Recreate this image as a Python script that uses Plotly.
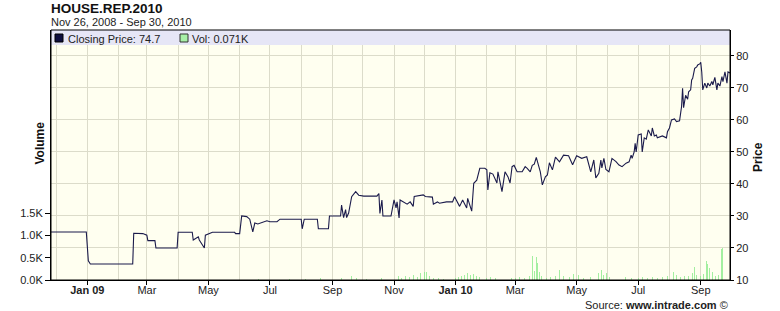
import plotly.graph_objects as go

# ---------------- data ----------------
price_dates = [
    "2008-11-26", "2008-12-31", "2009-01-02", "2009-01-04", "2009-02-15", "2009-02-16",
    "2009-02-25", "2009-03-01", "2009-03-02", "2009-03-09", "2009-03-10", "2009-03-31",
    "2009-04-01", "2009-04-15", "2009-04-16", "2009-04-21", "2009-04-22", "2009-04-27",
    "2009-04-28", "2009-05-05", "2009-05-27", "2009-05-28", "2009-06-01", "2009-06-03",
    "2009-06-08", "2009-06-11", "2009-06-14", "2009-06-16", "2009-06-19", "2009-06-28",
    "2009-07-01", "2009-07-08", "2009-07-11", "2009-08-01", "2009-08-02", "2009-08-04",
    "2009-08-17", "2009-08-18", "2009-08-28", "2009-08-29", "2009-09-09", "2009-09-10",
    "2009-09-12", "2009-09-14", "2009-09-15", "2009-09-17", "2009-09-20", "2009-09-24",
    "2009-09-27", "2009-10-02", "2009-10-15", "2009-10-17", "2009-10-18", "2009-10-20",
    "2009-10-21", "2009-10-29", "2009-11-01", "2009-11-03", "2009-11-04", "2009-11-06",
    "2009-11-07", "2009-11-10", "2009-11-14", "2009-11-17", "2009-11-20", "2009-11-21",
    "2009-11-30", "2009-12-02", "2009-12-09", "2009-12-10", "2009-12-14", "2009-12-16",
    "2009-12-23", "2009-12-29", "2009-12-31", "2010-01-05", "2010-01-08", "2010-01-12",
    "2010-01-13", "2010-01-17", "2010-01-19", "2010-01-22", "2010-01-25", "2010-01-30",
    "2010-02-01", "2010-02-02", "2010-02-04", "2010-02-07", "2010-02-11", "2010-02-12",
    "2010-02-16", "2010-02-19", "2010-02-22", "2010-02-24", "2010-02-26", "2010-02-28",
    "2010-03-03", "2010-03-08", "2010-03-11", "2010-03-13", "2010-03-16", "2010-03-18",
    "2010-03-20", "2010-03-22", "2010-03-24", "2010-03-26", "2010-03-28", "2010-03-31",
    "2010-04-02", "2010-04-04", "2010-04-07", "2010-04-10", "2010-04-14", "2010-04-18",
    "2010-04-23", "2010-04-27", "2010-05-01", "2010-05-06", "2010-05-11", "2010-05-15",
    "2010-05-18", "2010-05-20", "2010-05-23", "2010-05-25", "2010-05-26", "2010-05-28",
    "2010-05-30", "2010-06-02", "2010-06-05", "2010-06-09", "2010-06-12", "2010-06-15",
    "2010-06-19", "2010-06-22", "2010-06-24", "2010-06-25", "2010-06-27", "2010-06-28",
    "2010-06-29", "2010-07-01", "2010-07-04", "2010-07-05", "2010-07-07", "2010-07-09",
    "2010-07-11", "2010-07-14", "2010-07-15", "2010-07-17", "2010-07-19", "2010-07-20",
    "2010-07-25", "2010-07-29", "2010-07-30", "2010-08-01", "2010-08-03", "2010-08-06",
    "2010-08-08", "2010-08-11", "2010-08-13", "2010-08-14", "2010-08-15", "2010-08-17",
    "2010-08-19", "2010-08-20", "2010-08-22", "2010-08-23", "2010-08-24", "2010-08-26",
    "2010-08-28", "2010-08-29", "2010-08-31", "2010-09-01", "2010-09-02", "2010-09-03",
    "2010-09-05", "2010-09-07", "2010-09-08", "2010-09-10", "2010-09-12", "2010-09-13",
    "2010-09-15", "2010-09-17", "2010-09-18", "2010-09-20", "2010-09-22", "2010-09-23",
    "2010-09-25", "2010-09-27", "2010-09-28", "2010-09-30",
]
price_values = [
    25.0, 25.0, 16.0, 15.0, 15.0, 24.6,
    24.5, 24.0, 22.3, 22.3, 20.0, 20.0,
    24.9, 24.9, 22.5, 23.5, 22.5, 20.0,
    24.0, 24.9, 24.9, 24.5, 24.5, 30.0,
    29.8, 29.0, 25.0, 27.8, 27.5, 28.5,
    28.2, 28.2, 29.0, 29.0, 26.0, 29.0,
    29.0, 26.0, 26.0, 30.0, 30.0, 33.4,
    29.5, 32.0, 29.5, 30.9, 36.0, 37.6,
    36.5, 36.2, 36.2, 37.0, 30.8, 35.0,
    30.0, 30.0, 35.0, 32.5, 34.4, 29.4,
    35.0, 34.4, 33.7, 34.4, 33.0, 36.1,
    36.6, 36.1, 35.9, 33.7, 34.4, 34.0,
    34.4, 34.4, 36.0, 33.0, 35.0, 32.5,
    35.5, 31.5, 40.2, 41.2, 44.9, 44.9,
    44.4, 38.1, 43.5, 43.1, 40.3, 43.8,
    37.6, 43.8, 42.2, 40.3, 45.4, 45.8,
    43.8, 43.8, 45.4, 44.9, 43.8, 45.8,
    46.2, 48.3, 45.8, 43.8, 39.7, 42.2,
    42.8, 46.6, 44.4, 48.4, 46.9, 49.0,
    48.8, 46.0, 48.8, 48.0, 48.5, 43.8,
    47.5, 41.9, 43.3, 47.5, 45.0, 48.0,
    44.5, 43.8, 48.0, 47.0, 45.9, 45.4,
    46.5, 46.9, 49.0, 48.0, 50.0, 52.7,
    50.0, 55.3, 55.6, 50.0, 54.4, 54.0,
    56.9, 55.0, 57.5, 55.0, 55.3, 54.4,
    55.0, 54.4, 56.3, 57.5, 60.0, 60.3,
    59.5, 59.7, 64.2, 69.9, 63.8, 67.7,
    66.5, 68.8, 69.4, 72.5, 73.0, 76.1,
    76.6, 77.2, 77.5, 78.0, 75.0, 69.4,
    71.5, 70.0, 71.5, 70.6, 72.0, 71.0,
    73.3, 69.4, 71.5, 70.6, 73.5, 72.0,
    75.0, 71.5, 75.0, 74.7,
]

vol_dates = [
    "2009-06-20", "2009-07-05", "2009-07-20", "2009-08-05", "2009-08-20", "2009-09-10",
    "2009-09-20", "2009-09-25", "2009-10-05", "2009-10-20", "2009-11-02", "2009-11-05",
    "2009-11-08", "2009-11-12", "2009-11-16", "2009-11-20", "2009-11-24", "2009-11-27",
    "2009-12-01", "2009-12-03", "2009-12-06", "2009-12-10", "2009-12-15", "2009-12-20",
    "2010-01-01", "2010-01-04", "2010-01-07", "2010-01-10", "2010-01-13", "2010-01-16",
    "2010-01-19", "2010-01-22", "2010-01-25", "2010-02-01", "2010-02-05", "2010-02-10",
    "2010-02-15", "2010-02-20", "2010-02-25", "2010-03-01", "2010-03-05", "2010-03-10",
    "2010-03-15", "2010-03-18", "2010-03-20", "2010-03-22", "2010-03-23", "2010-03-25",
    "2010-03-27", "2010-04-01", "2010-04-05", "2010-04-10", "2010-04-14", "2010-04-18",
    "2010-04-24", "2010-04-28", "2010-05-03", "2010-05-08", "2010-05-15", "2010-05-23",
    "2010-05-26", "2010-05-28", "2010-05-31", "2010-06-03", "2010-06-08", "2010-06-12",
    "2010-06-18", "2010-06-24", "2010-07-01", "2010-07-05", "2010-07-10", "2010-07-15",
    "2010-07-20", "2010-07-25", "2010-07-30", "2010-08-05", "2010-08-08", "2010-08-12",
    "2010-08-16", "2010-08-20", "2010-08-24", "2010-08-26", "2010-08-28", "2010-09-01",
    "2010-09-04", "2010-09-07", "2010-09-08", "2010-09-10", "2010-09-13", "2010-09-16",
    "2010-09-19", "2010-09-22", "2010-09-23", "2010-09-25", "2010-09-26", "2010-09-27",
    "2010-09-28", "2010-09-29", "2010-09-30",
]
vol_values = [
    0.03, 0.02, 0.03, 0.02, 0.04, 0.05,
    0.08, 0.04, 0.03, 0.05, 0.06, 0.08,
    0.05, 0.10, 0.07, 0.12, 0.06, 0.15,
    0.18, 0.17, 0.08, 0.05, 0.04, 0.03,
    0.05, 0.06, 0.10, 0.12, 0.15, 0.11,
    0.14, 0.09, 0.07, 0.05, 0.06, 0.04,
    0.07, 0.05, 0.04, 0.05, 0.06, 0.05,
    0.09, 0.54, 0.20, 0.52, 0.38, 0.18,
    0.08, 0.05, 0.06, 0.10, 0.22, 0.08,
    0.06, 0.13, 0.11, 0.05, 0.07, 0.16,
    0.22, 0.12, 0.15, 0.06, 0.07, 0.05,
    0.06, 0.04, 0.05, 0.06, 0.05, 0.07,
    0.05, 0.06, 0.08, 0.18, 0.12, 0.07,
    0.10, 0.09, 0.15, 0.29, 0.12, 0.10,
    0.14, 0.42, 0.35, 0.27, 0.18, 0.10,
    0.12, 0.70, 0.72, 0.82, 0.60, 0.45,
    1.10, 1.05, 0.071,
]

x_tick_dates = ["2009-01-01", "2009-03-01", "2009-05-01", "2009-07-01", "2009-09-01",
                "2009-11-01", "2010-01-01", "2010-03-01", "2010-05-01", "2010-07-01",
                "2010-09-01"]
x_tick_labels = ["<b>Jan 09</b>", "Mar", "May", "Jul", "Sep", "Nov", "<b>Jan 10</b>",
                 "Mar", "May", "Jul", "Sep"]
vol_ticks = [0.0, 0.5, 1.0, 1.5]
vol_tick_labels = ["0.0K", "0.5K", "1.0K", "1.5K"]
price_ticks = [10, 20, 30, 40, 50, 60, 70, 80]

title_text = "HOUSE.REP.2010"
subtitle_text = "Nov 26, 2008 - Sep 30, 2010"
legend_price = "Closing Price: 74.7"
legend_vol = "Vol: 0.071K"

# ---------------- figure ----------------
FONT = "Liberation Sans, Arial, sans-serif"
GRID = "#DCDCCA"
LINE_COL = "#1B1B4B"
VOL_COL = "rgba(140,235,140,0.8)"

fig = go.Figure()
fig.add_trace(go.Bar(x=vol_dates, y=vol_values, yaxis="y", marker=dict(color=VOL_COL, line=dict(width=0)),
                     width=86400000 * 0.9, showlegend=False, hoverinfo="skip"))
fig.add_trace(go.Scatter(x=price_dates, y=price_values, yaxis="y2", mode="lines",
                         line=dict(color=LINE_COL, width=1.1), showlegend=False))

W, H = 780, 311
L, R, T, B = 51, 50, 30, 31
pw, ph = W - L - R, H - T - B


def px(X):
    return (X - L) / pw


def py(Y):
    return (H - B - Y) / ph


fig.update_layout(
    width=W, height=H, margin=dict(l=L, r=R, t=T, b=B),
    paper_bgcolor="white", plot_bgcolor="#FFFFF0",
    font=dict(family=FONT, size=11, color="#222"),
    bargap=0,
    xaxis=dict(type="date", range=["2008-11-26", "2010-09-30"],
               tickmode="array", tickvals=x_tick_dates, ticktext=x_tick_labels,
               ticks="outside", ticklen=4, tickcolor="#000", ticklabelstandoff=-4,
               showgrid=True, gridcolor=GRID, gridwidth=1,
               minor=dict(dtick="M1", tick0="2008-12-01", showgrid=True, gridcolor=GRID, ticks=""),
               showline=True, linecolor="#000", linewidth=1, zeroline=False,
               tickfont=dict(size=11, color="#222")),
    yaxis=dict(range=[0, 5.6], tickmode="array", tickvals=vol_ticks, ticktext=vol_tick_labels,
               ticks="outside", ticklen=5, tickcolor="#000", showgrid=False, zeroline=False,
               showline=True, linecolor="#000", linewidth=1, side="left",
               tickfont=dict(size=11, color="#222")),
    yaxis2=dict(range=[10, 88.1], tickmode="array", tickvals=price_ticks,
                ticks="outside", ticklen=3, tickcolor="#000", overlaying="y", side="right",
                showgrid=True, gridcolor=GRID, zeroline=False,
                showline=True, linecolor="#000", linewidth=1,
                tickfont=dict(size=11, color="#222")),
    shapes=[
        dict(type="rect", xref="paper", yref="paper", x0=0, x1=1, y0=py(45), y1=1,
             fillcolor="#E6E6F6", line=dict(width=0), layer="above"),
        dict(type="rect", xref="paper", yref="paper", x0=0, x1=1, y0=0, y1=1,
             fillcolor="rgba(0,0,0,0)", line=dict(color="#000", width=1), layer="above"),
        dict(type="rect", xref="paper", yref="paper", x0=px(55), x1=px(63), y0=py(42), y1=py(34),
             fillcolor="#0E0E3E", line=dict(color="#000", width=1), layer="above"),
        dict(type="rect", xref="paper", yref="paper", x0=px(180), x1=px(188), y0=py(42), y1=py(34),
             fillcolor="#A8F0A8", line=dict(color="#333", width=1), layer="above"),
    ],
    annotations=[
        dict(text="<b>" + title_text + "</b>", xref="paper", yref="paper", x=px(49), y=py(9),
             xanchor="left", yanchor="middle", showarrow=False, font=dict(size=13.5, color="#111")),
        dict(text=subtitle_text, xref="paper", yref="paper", x=px(49), y=py(22.5),
             xanchor="left", yanchor="middle", showarrow=False, font=dict(size=11, color="#222")),
        dict(text=legend_price, xref="paper", yref="paper", x=px(66), y=py(38.5),
             xanchor="left", yanchor="middle", showarrow=False, font=dict(size=11, color="#222")),
        dict(text=legend_vol, xref="paper", yref="paper", x=px(190), y=py(38.5),
             xanchor="left", yanchor="middle", showarrow=False, font=dict(size=11, color="#222")),
        dict(text="<b>Volume</b>", xref="paper", yref="paper", x=px(39), y=py(143.5),
             xanchor="center", yanchor="middle", textangle=-90, showarrow=False,
             font=dict(size=12, color="#111")),
        dict(text="<b>Price</b>", xref="paper", yref="paper", x=px(758), y=py(157),
             xanchor="center", yanchor="middle", textangle=-90, showarrow=False,
             font=dict(size=12, color="#111")),
        dict(text="Source: <b>www.intrade.com</b> ©", xref="paper", yref="paper", x=px(730), y=py(305),
             xanchor="right", yanchor="middle", showarrow=False, font=dict(size=11, color="#222")),
    ],
)

fig.write_html("out.html")
